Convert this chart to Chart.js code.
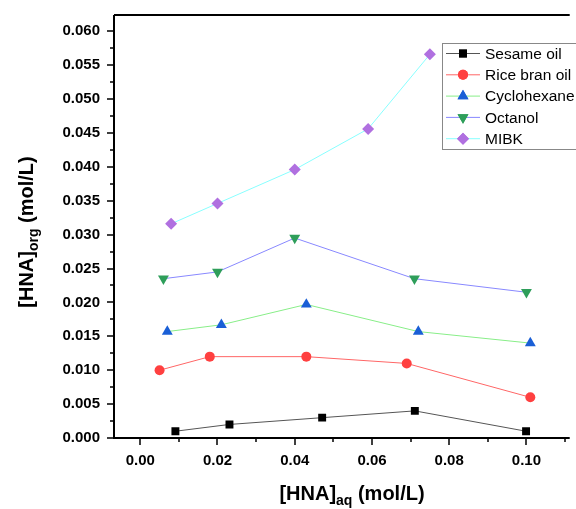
<!DOCTYPE html>
<html><head><meta charset="utf-8">
<script src="https://cdn.jsdelivr.net/npm/chart.js@4.4.0/dist/chart.umd.min.js"></script>
<style>html,body{margin:0;padding:0;background:#fff;overflow:hidden}#wrap{width:576px;height:509px}</style>
</head><body><div id="wrap"><canvas id="c" width="576" height="509"></canvas></div>
<script>
const seriesNames = ['Sesame oil','Rice bran oil','Cyclohexane','Octanol','MIBK'];
const xSesame = [0.0091,0.0231,0.0471,0.0711,0.0999];
const ySesame = [0.0010,0.0020,0.0030,0.0040,0.0010];
const xRice = [0.0050,0.0180,0.0430,0.0690,0.1010];
const yRice = [0.0100,0.0120,0.0120,0.0110,0.0060];
const xCyclo = [0.0070,0.0210,0.0430,0.0720,0.1010];
const yCyclo = [0.0157,0.0167,0.0197,0.0157,0.0140];
const xOct = [0.0060,0.0200,0.0400,0.0710,0.1000];
const yOct = [0.0235,0.0245,0.0295,0.0235,0.0215];
const xMibk = [0.0080,0.0200,0.0400,0.0590,0.0750];
const yMibk = [0.0316,0.0346,0.0396,0.0456,0.0566];
const xTicks = [0,0.02,0.04,0.06,0.08,0.10];
const yTicks = [0,0.005,0.010,0.015,0.020,0.025,0.030,0.035,0.040,0.045,0.050,0.055,0.060];

const pts = (xs, ys) => xs.map((x,i)=>({x, y: ys[i]}));
const styles = [
  {line:'#555555', fill:'#000000', ps:'rect', r:5.6, rot:0},
  {line:'#ff6666', fill:'#ff4040', ps:'circle', r:5, rot:0},
  {line:'#88ee88', fill:'#1a5fd6', ps:'triangle', r:6.3, rot:0},
  {line:'#8888ff', fill:'#2e9e5a', ps:'triangle', r:6.3, rot:180},
  {line:'#88ffff', fill:'#b070e0', ps:'rectRot', r:6, rot:0}
];
const allData = [pts(xSesame,ySesame),pts(xRice,yRice),pts(xCyclo,yCyclo),pts(xOct,yOct),pts(xMibk,yMibk)];
const datasets = allData.map((d,i)=>({
  label: seriesNames[i], data: d, showLine: true,
  borderColor: styles[i].line, borderWidth: 1,
  pointStyle: styles[i].ps, pointRotation: styles[i].rot, pointRadius: styles[i].r,
  pointBackgroundColor: styles[i].fill, pointBorderColor: styles[i].fill, pointBorderWidth: 0,
  pointHoverRadius: styles[i].r
}));

const deco = {
  id: 'deco',
  afterDraw(chart) {
    const ctx = chart.ctx, ca = chart.chartArea;
    const xs = chart.scales.x, ys = chart.scales.y;
    ctx.save();
    ctx.strokeStyle = '#000'; ctx.lineWidth = 2;
    ctx.beginPath();
    ctx.moveTo(ca.left, ca.top); ctx.lineTo(ca.right, ca.top);
    ctx.moveTo(ca.left, ca.top); ctx.lineTo(ca.left, ca.bottom+1);
    ctx.moveTo(ca.left-1, ca.bottom); ctx.lineTo(ca.right, ca.bottom);
    ctx.stroke();
    ctx.lineWidth = 1.5;
    ctx.beginPath();
    for (let v = 0; v <= 0.0624; v += 0.0025) {
      const p = Math.round(ys.getPixelForValue(v));
      const major = Math.abs(v/0.005 - Math.round(v/0.005)) < 1e-6;
      ctx.moveTo(ca.left, p); ctx.lineTo(ca.left - (major ? 7 : 4), p);
    }
    for (let v = 0; v <= 0.111; v += 0.01) {
      const p = Math.round(xs.getPixelForValue(v));
      const major = Math.abs(v/0.02 - Math.round(v/0.02)) < 1e-6;
      ctx.moveTo(p, ca.bottom); ctx.lineTo(p, ca.bottom + (major ? 7 : 4));
    }
    ctx.stroke();

    // axis titles with subscripts
    function subTitle(main, sub, rest, cx, cy, rot) {
      ctx.save();
      ctx.translate(cx, cy); ctx.rotate(rot);
      ctx.fillStyle = '#000'; ctx.textBaseline = 'alphabetic'; ctx.textAlign = 'left';
      const fMain = 'bold 20px Liberation Sans, Arial, sans-serif';
      const fSub = 'bold 14px Liberation Sans, Arial, sans-serif';
      ctx.font = fMain; const w1 = ctx.measureText(main).width; const w3 = ctx.measureText(rest).width;
      ctx.font = fSub; const w2 = ctx.measureText(sub).width;
      const total = w1 + w2 + w3;
      let x = -total/2; const base = 6;
      ctx.font = fMain; ctx.fillText(main, x, base); x += w1;
      ctx.font = fSub; ctx.fillText(sub, x, base + 5); x += w2;
      ctx.font = fMain; ctx.fillText(rest, x, base);
      ctx.restore();
    }
    subTitle('[HNA]', 'aq', ' (mol/L)', 352, 494, 0);
    subTitle('[HNA]', 'org', ' (mol/L)', 27, 232, -Math.PI/2);

    // legend
    const lx = 442, ly = 43, lw = 140, lh = 106;
    ctx.fillStyle = '#fff'; ctx.fillRect(lx, ly, lw, lh);
    ctx.strokeStyle = '#888'; ctx.lineWidth = 1;
    ctx.strokeRect(lx + 0.5, ly + 0.5, lw, lh);
    ctx.font = '15.5px Liberation Sans, Arial, sans-serif';
    ctx.textBaseline = 'middle'; ctx.textAlign = 'left';
    seriesNames.forEach((name, i) => {
      const y = 53.5 + i * 21.3;
      ctx.strokeStyle = styles[i].line; ctx.lineWidth = 1;
      ctx.beginPath(); ctx.moveTo(446, y); ctx.lineTo(480, y); ctx.stroke();
      ctx.fillStyle = styles[i].fill;
      Chart.helpers.drawPoint(ctx, {pointStyle: styles[i].ps, rotation: styles[i].rot, radius: styles[i].r, borderWidth: 0}, 463, y);
      ctx.fill();
      ctx.fillStyle = '#000';
      ctx.fillText(name, 485, y + 1);
    });
    ctx.restore();
  }
};

new Chart(document.getElementById('c'), {
  type: 'scatter',
  data: { datasets },
  options: {
    responsive: false, animation: false,
    layout: { padding: { top: 14, right: 0, left: 0, bottom: 0 } },
    plugins: { legend: { display: false }, tooltip: { enabled: false } },
    scales: {
      x: {
        type: 'linear', min: -0.0068, max: 0.1112,
        afterBuildTicks: s => { s.ticks = xTicks.map(v => ({value: v})); },
        afterFit: s => { s.height = 71; },
        grid: { display: false }, border: { display: false },
        ticks: { color: '#000', padding: 6, maxRotation: 0, autoSkip: false,
          font: { family: 'Liberation Sans, Arial, sans-serif', size: 15, weight: 'bold' },
          callback: v => v.toFixed(2) }
      },
      y: {
        type: 'linear', min: 0, max: 0.0624,
        afterBuildTicks: s => { s.ticks = yTicks.map(v => ({value: v})); },
        afterFit: s => { s.width = 114; },
        grid: { display: false }, border: { display: false },
        ticks: { color: '#000', padding: 6, autoSkip: false,
          font: { family: 'Liberation Sans, Arial, sans-serif', size: 15, weight: 'bold' },
          callback: v => v.toFixed(3) }
      }
    }
  },
  plugins: [deco]
});
</script></body></html>
